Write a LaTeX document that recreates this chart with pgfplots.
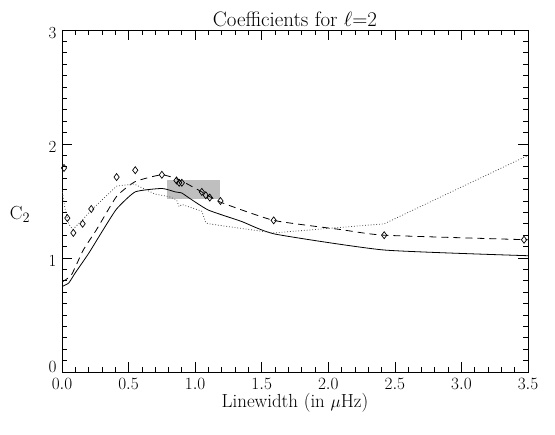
\documentclass[border=0pt]{standalone}
\usepackage{pgfplots}
\pgfplotsset{compat=1.18}

\begin{document}
\begin{tikzpicture}
\path[use as bounding box] (-62bp,-63bp) rectangle (493bp,372bp);
\begin{axis}[
    scale only axis, width=466bp, height=342bp,
    xmin=0, xmax=3.5, ymin=0, ymax=3,
    xtick={0,0.5,...,3.5}, ytick={0,1,2,3},
    yticklabels={\raisebox{3bp}[0pt][0pt]{$0$},1,2,3},
    minor x tick num=4, minor y tick num=9,
    tick align=inside, major tick length=10bp, minor tick length=5bp,
    xticklabel style={/pgf/number format/fixed, /pgf/number format/fixed zerofill,
        /pgf/number format/precision=1, yshift=-3bp},
    yticklabel style={xshift=-2bp, yshift=-3bp},
    tick label style={font=\fontsize{17}{19}\selectfont},
    label style={font=\fontsize{19}{21}\selectfont},
    title style={font=\fontsize{21}{23}\selectfont, yshift=-6bp},
    title={Coefficients for $\ell$=2},
    xlabel={Linewidth (in $\mu$Hz)},
    xlabel style={yshift=3bp},
    ylabel={C$_2$},
    every axis y label/.style={at={(axis description cs:-0.09,0.46)}, anchor=center,
        font=\fontsize{19}{21}\selectfont},
    axis line style={line width=0.8bp},
    every tick/.style={black, line width=0.7bp},
]
% grey box
\addplot[fill=black!25, draw=none] coordinates {(0.79,1.52) (1.19,1.52) (1.19,1.68) (0.79,1.68)} -- cycle;
% solid
\addplot[black, line width=0.8bp, smooth, tension=0.3] coordinates {
 (0.0,0.75) (0.05,0.78) (0.1,0.87) (0.2,1.04) (0.3,1.23) (0.41,1.43) (0.55,1.58)
 (0.75,1.61) (0.85,1.58) (0.9,1.57) (0.95,1.53) (1.1,1.42) (1.35,1.32) (1.6,1.21)
 (2.42,1.07) (3.5,1.02)};
% dashed
\addplot[black, line width=0.8bp, dash pattern=on 7bp off 5bp, smooth, tension=0.3] coordinates {
 (0.0,0.79) (0.07,0.85) (0.16,1.07) (0.26,1.25) (0.41,1.54) (0.55,1.67) (0.75,1.73)
 (0.89,1.68) (1.05,1.58) (1.19,1.49) (1.59,1.33) (2.09,1.25) (2.42,1.20) (3.5,1.16)};
% dotted
\addplot[black!70, line width=0.8bp, dotted] coordinates {
 (0.0,1.60) (0.02,1.45) (0.05,1.30) (0.08,1.25) (0.15,1.33) (0.22,1.42) (0.41,1.63)
 (0.54,1.65) (0.7,1.56) (0.8,1.54) (0.86,1.51) (0.88,1.45) (0.9,1.47) (1.05,1.41)
 (1.08,1.31) (1.1,1.30) (1.59,1.22) (2.42,1.30) (3.5,1.90)};
% diamonds
\addplot[only marks, mark=diamond, mark size=3.5bp, mark options={black, line width=0.7bp, fill=white}] coordinates {
 (0.015,1.79) (0.04,1.35) (0.085,1.22) (0.155,1.30) (0.22,1.43) (0.41,1.71) (0.55,1.77)
 (0.75,1.73) (0.86,1.68) (0.88,1.66) (0.9,1.66) (1.05,1.58) (1.08,1.55) (1.11,1.53)
 (1.19,1.50) (1.59,1.33) (2.42,1.20) (3.47,1.16)};
\end{axis}
\end{tikzpicture}
\end{document}
